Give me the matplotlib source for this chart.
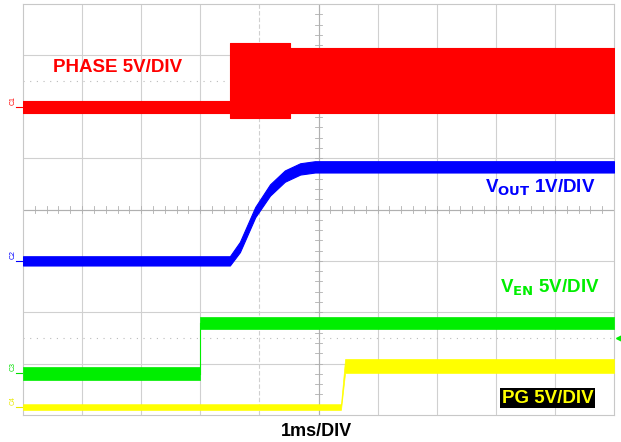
import numpy as np
import matplotlib
matplotlib.use("Agg")
import matplotlib.pyplot as plt

plt.rcParams["font.family"] = ["Liberation Sans", "DejaVu Sans"]

# time in ms (1 ms per division), amplitude in screen divisions
phase_t = [0.0, 3.50, 3.50, 4.52, 4.52, 10.0]
phase_hi = [6.12, 6.12, 7.24, 7.24, 7.14, 7.14]
phase_lo = [5.88, 5.88, 5.78, 5.78, 5.88, 5.88]

vout_t = [0.0, 3.50, 3.67, 3.93, 4.18, 4.43, 4.69, 4.94, 10.0]
vout_mid = [3.00, 3.00, 3.27, 3.95, 4.38, 4.65, 4.79, 4.83, 4.83]
vout_half = [0.09, 0.09, 0.10, 0.10, 0.11, 0.11, 0.11, 0.11, 0.11]

ven_t = [0.0, 3.00, 3.00, 10.0]
ven_hi = [0.93, 0.93, 1.91, 1.91]
ven_lo = [0.68, 0.68, 1.67, 1.67]

pg_t = [0.0, 5.38, 5.45, 10.0]
pg_hi = [0.21, 0.21, 1.09, 1.09]
pg_lo = [0.10, 0.10, 0.82, 0.82]

markers = [("C1", 6.00, "#ff0000"), ("C2", 3.00, "#0000ff"),
           ("C3", 0.82, "#00e000"), ("C4", 0.16, "#e8e800")]

fig = plt.figure(figsize=(6.21, 4.42), dpi=100)
ax = fig.add_axes([23 / 621, 27 / 442, 591 / 621, 411 / 442])
ax.set_xlim(0, 10)
ax.set_ylim(0, 8)

# graticule
for x in range(1, 10):
    ax.axvline(x, color="#d0d0d0", lw=0.8, ls=(0, (4, 2)) if x == 4 else "-", zorder=0)
for y in range(1, 8):
    ax.axhline(y, color="#d0d0d0", lw=0.8, zorder=0)
for y in (1.5, 6.5):
    ax.axhline(y, color="#bbbbbb", lw=0.8, ls=(0, (1, 5)), zorder=0)
ax.axvline(5, color="#b0b0b0", lw=0.8, zorder=0)
ax.axhline(4, color="#b0b0b0", lw=0.8, zorder=0)
for v in np.arange(0.2, 10, 0.2):
    ax.plot([v, v], [3.93, 4.07], color="#b0b0b0", lw=0.6, zorder=0)
for v in np.arange(0.2, 8, 0.2):
    ax.plot([4.94, 5.06], [v, v], color="#b0b0b0", lw=0.6, zorder=0)

for s in ax.spines.values():
    s.set_color("#c8c8c8")
ax.set_xticks([])
ax.set_yticks([])

# traces
ax.fill_between(phase_t, phase_lo, phase_hi, color="#ff0000", lw=0.8, zorder=3)
vm = np.array(vout_mid)
vh = np.array(vout_half)
ax.fill_between(vout_t, vm - vh, vm + vh, color="#0000ff", lw=0.8, zorder=3)
ax.fill_between(ven_t, ven_lo, ven_hi, color="#00ee00", lw=0.5, zorder=3)
ax.plot([3.0, 3.0], [0.8, 1.8], color="#00ee00", lw=0.8, zorder=3)
ax.fill_between(pg_t, pg_lo, pg_hi, color="#ffff00", lw=0.5, zorder=3)

# labels
ax.text(0.50, 6.76, "PHASE 5V/DIV", color="#ff0000", fontsize=13.5,
        fontweight="bold", va="center", ha="left")
ax.text(7.81, 4.43, r"V$_{\mathbf{OUT}}$ 1V/DIV", color="#0000ff", fontsize=13.5,
        fontweight="bold", va="center", ha="left")
ax.text(8.07, 2.48, r"V$_{\mathbf{EN}}$ 5V/DIV", color="#00ee00", fontsize=13.5,
        fontweight="bold", va="center", ha="left")
ax.text(8.10, 0.33, "PG 5V/DIV", color="#ffff00", fontsize=13.5,
        fontweight="bold", va="center", ha="left",
        bbox=dict(facecolor="black", edgecolor="none", pad=1.2))
fig.text(316 / 621, 10 / 442, "1ms/DIV", color="black", fontsize=13,
         fontweight="bold", ha="center", va="center")

for name, lvl, col in markers:
    ax.text(-0.17, lvl + 0.03, name, color=col, fontsize=5, rotation=90,
            ha="center", va="bottom", clip_on=False)
    ax.plot([-0.12, 0.0], [lvl, lvl], color=col, lw=0.8, clip_on=False)

ax.plot([10.08], [1.5], marker="<", color="#00ee00", markersize=4, clip_on=False)

fig.savefig("out.png", dpi=100)
